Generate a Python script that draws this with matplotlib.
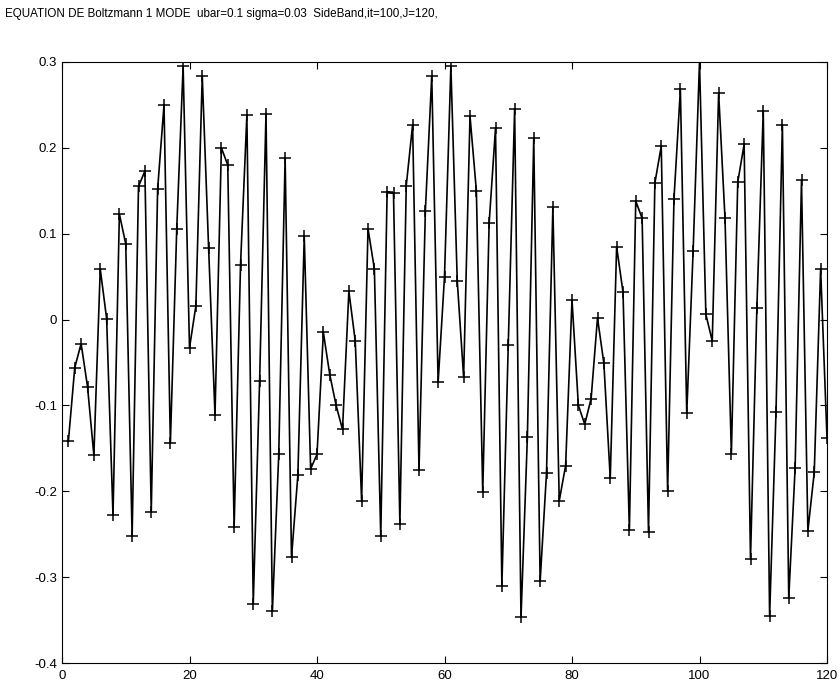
import numpy as np
import matplotlib
matplotlib.use("Agg")
import matplotlib.pyplot as plt

title = "EQUATION DE Boltzmann 1 MODE  ubar=0.1 sigma=0.03  SideBand,it=100,J=120,"

x = list(range(1, 121))
y = [
    -0.142, -0.056, -0.028, -0.078, -0.158, 0.059, 0.001, -0.228, 0.123, 0.088,
    -0.252, 0.155, 0.173, -0.224, 0.152, 0.250, -0.144, 0.106, 0.295, -0.033,
    0.016, 0.284, 0.083, -0.111, 0.200, 0.180, -0.242, 0.063, 0.238, -0.331,
    -0.071, 0.240, -0.340, -0.157, 0.188, -0.277, -0.181, 0.097, -0.174, -0.157,
    -0.015, -0.064, -0.100, -0.128, 0.033, -0.025, -0.211, 0.106, 0.059, -0.252,
    0.149, 0.147, -0.238, 0.156, 0.227, -0.175, 0.127, 0.284, -0.073, 0.050,
    0.295, 0.045, -0.067, 0.237, 0.150, -0.201, 0.112, 0.223, -0.310, -0.030,
    0.245, -0.347, -0.137, 0.211, -0.305, -0.179, 0.131, -0.211, -0.170, 0.023,
    -0.100, -0.122, -0.092, 0.002, -0.051, -0.185, 0.085, 0.032, -0.245, 0.138,
    0.118, -0.248, 0.159, 0.202, -0.200, 0.141, 0.268, -0.109, 0.080, 0.300,
    0.006, -0.025, 0.264, 0.118, -0.156, 0.160, 0.204, -0.279, 0.014, 0.243,
    -0.345, -0.108, 0.227, -0.324, -0.173, 0.162, -0.246, -0.178, 0.059, -0.138,
]

xticks = [0, 20, 40, 60, 80, 100, 120]
yticks = [-0.4, -0.3, -0.2, -0.1, 0, 0.1, 0.2, 0.3]
ytick_labels = ["-0.4", "-0.3", "-0.2", "-0.1", "0", "0.1", "0.2", "0.3"]

plt.rcParams['font.family'] = ['Liberation Sans', 'DejaVu Sans']

fig = plt.figure(figsize=(8.4, 6.88), dpi=100)
ax = fig.add_axes([62/840, 1 - 663/688, (827 - 62)/840, (663 - 62)/688])

ax.plot(x, y, color='black', linewidth=1.2)
ax.plot(x, y, linestyle='none', marker='+', color='black', markersize=9, markeredgewidth=1.1)

ax.set_xlim(0, 120)
ax.set_ylim(-0.4, 0.3)
ax.set_xticks(xticks)
ax.set_yticks(yticks)
ax.set_yticklabels(ytick_labels)
ax.tick_params(direction='in', length=5, width=0.8, top=True, right=True,
               labelsize=9.5, colors='black')
ax.tick_params(axis='x', pad=5)
for s in ax.spines.values():
    s.set_linewidth(0.8)
    s.set_color('black')

fig.text(5/840, 1 - 14/688, title, ha='left', va='center', fontsize=8.4)

fig.savefig("out.png", dpi=100, facecolor='white')
